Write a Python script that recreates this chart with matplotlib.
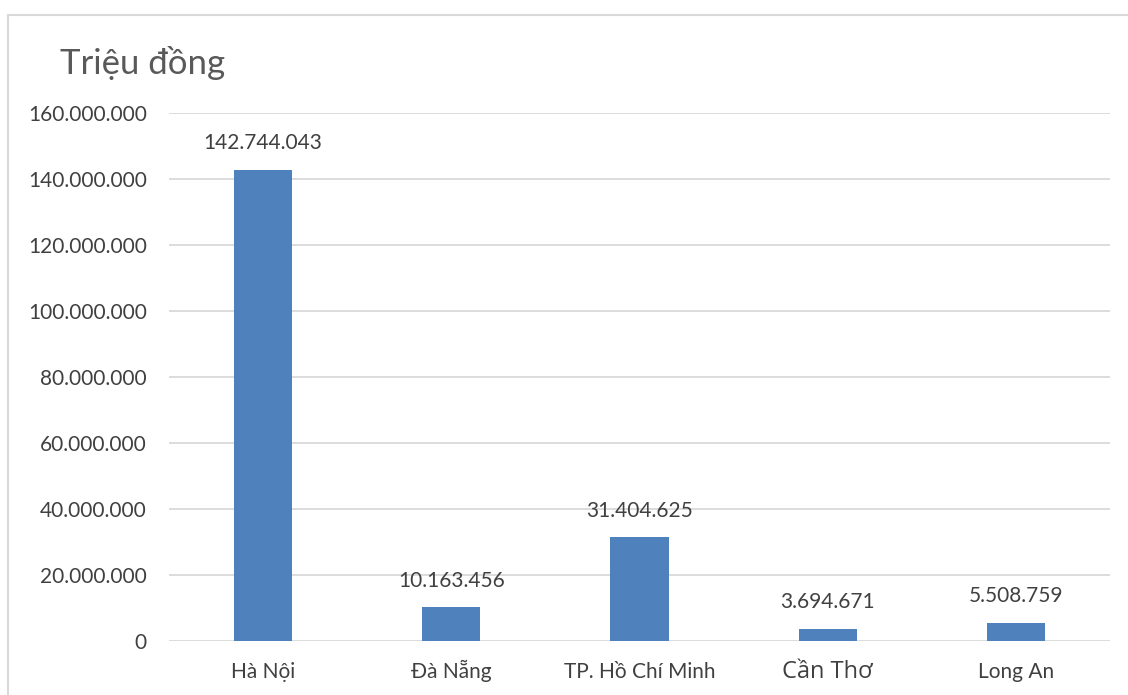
import matplotlib.pyplot as plt
from matplotlib.patches import Rectangle
from matplotlib.ticker import FuncFormatter

plt.rcParams['font.family'] = ['Lato', 'Open Sans', 'DejaVu Sans']

# Số liệu theo tỉnh / thành phố
provinces = ['Hà Nội', 'Đà Nẵng', 'TP. Hồ Chí Minh', 'Cần Thơ', 'Long An']
values = [142744043, 10163456, 31404625, 3694671, 5508759]
yticks = [0, 20000000, 40000000, 60000000, 80000000, 100000000, 120000000, 140000000, 160000000]

bar_color = '#4f81bd'
text_color = '#404040'
grid_color = '#d9d9d9'


def dot_fmt(v, pos=None):
    return f'{int(v):,}'.replace(',', '.')


fig = plt.figure(figsize=(11.28, 6.95), dpi=100)
ax = fig.add_axes([169 / 1128, 1 - 641 / 695, (1110 - 169) / 1128, (641 - 113) / 695])

x = range(len(provinces))
bars = ax.bar(x, values, width=0.31, color=bar_color, zorder=3)

ax.set_xlim(-0.5, len(provinces) - 0.5)
ax.set_ylim(0, 160000000)
ax.set_yticks(yticks)
ax.yaxis.set_major_formatter(FuncFormatter(dot_fmt))
ax.grid(axis='y', color=grid_color, linewidth=1.3, zorder=0)
for s in ax.spines.values():
    s.set_visible(False)
ax.tick_params(axis='y', length=0, pad=16, labelsize=15, labelcolor=text_color)
ax.tick_params(axis='x', length=0, pad=26.5, labelsize=15, labelcolor=text_color)
ax.set_xticks(list(x))
ax.set_xticklabels(provinces)
for lbl in ax.get_xticklabels():
    lbl.set_verticalalignment('baseline')
# nhãn Cần Thơ dùng font khác
ax.get_xticklabels()[3].set_fontfamily(['Open Sans', 'DejaVu Sans'])
ax.get_xticklabels()[3].set_fontsize(17)

for b, v in zip(bars, values):
    ax.annotate(dot_fmt(v), (b.get_x() + b.get_width() / 2, v),
                xytext=(0, 12), textcoords='offset points',
                ha='center', va='bottom', fontsize=15, color=text_color)

fig.text(60 / 1128, 1 - 74 / 695, 'Triệu đồng', fontsize=25, color='#595959',
         ha='left', va='baseline')

# khung viền biểu đồ
fig.patches.append(Rectangle((8 / 1128, -0.1), 1.2, 1 - 15 / 695 + 0.1,
                             transform=fig.transFigure, fill=False,
                             edgecolor=grid_color, linewidth=1.5))

fig.savefig('out.png', dpi=100)
